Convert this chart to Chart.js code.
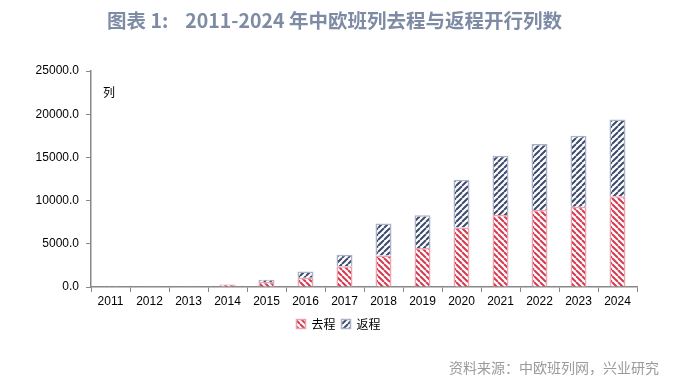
<!DOCTYPE html>
<html>
<head>
<meta charset="utf-8">
<script src="https://cdn.jsdelivr.net/npm/chart.js@4/dist/chart.umd.min.js"></script>
<style>
  body { margin: 0; background: #fff; }
  #wrap { position: relative; width: 691px; height: 384px; }
  #title { position: absolute; left: 107px; top: 5px; white-space: nowrap;
           font-family: "Noto Sans CJK SC", "Noto Sans"; font-weight: bold; font-size: 19.5px; color: #7e8ba5; }
  #title span { display: inline-block; width: 17px; }
  #unit { position: absolute; left: 103px; top: 83px; font-family: "Noto Sans CJK SC"; font-size: 12px; color: #000; }
  #src { position: absolute; right: 32px; top: 357px; font-family: "Noto Sans CJK SC"; font-size: 14px; color: #9a9a9a; }
</style>
</head>
<body>
<div id="wrap">
  <div id="title">图表 1:<span></span>2011-2024 年中欧班列去程与返程开行列数</div>
  <canvas id="canvass" width="691" height="384"></canvas>
  <div id="unit">列</div>
  <div id="src">资料来源：中欧班列网，兴业研究</div>
</div>
<script>
// chart data
var years = ['2011','2012','2013','2014','2015','2016','2017','2018','2019','2020','2021','2022','2023','2024'];
var outbound = [17, 42, 80, 280, 580, 1080, 2400, 3640, 4500, 6900, 8330, 8900, 9300, 10500];
var inbound = [0, 0, 0, 28, 270, 700, 1320, 3720, 3800, 5500, 6870, 7650, 8200, 8900];
var yTicks = [0, 5000, 10000, 15000, 20000, 25000];

function makeStripes(color, back) {
    var s = 6;
    var c = document.createElement('canvas');
    c.width = s; c.height = s;
    var g = c.getContext('2d');
    g.fillStyle = '#fff';
    g.fillRect(0, 0, s, s);
    g.strokeStyle = color;
    g.lineWidth = 2;
    g.beginPath();
    for (var k = -1; k <= 1; k++) {
        var x0 = k * s;
        if (back) { g.moveTo(x0, 0); g.lineTo(x0 + s, s); }
        else { g.moveTo(x0, s); g.lineTo(x0 + s, 0); }
    }
    g.stroke();
    return g.createPattern(c, 'repeat');
}

var redFill = makeStripes('#d63a50', true);
var blueFill = makeStripes('#3d4b6c', false);

// legend sits a little right of the plot centre
var legendShift = {
    id: 'legendShift',
    afterLayout: function (chart) {
        var lg = chart.legend;
        lg.left = 40;
        lg.width = lg.right - lg.left;
    }
};

var ctx = document.getElementById('canvass').getContext('2d');
var myBarChart = new Chart(ctx, {
    type: 'bar',
    data: {
        labels: years,
        datasets: [{
            label: '去程',
            data: outbound,
            backgroundColor: redFill,
            borderColor: '#eca3ae',
            borderWidth: 1.5,
            categoryPercentage: 0.82,
            barPercentage: 0.5
        }, {
            label: '返程',
            data: inbound,
            backgroundColor: blueFill,
            borderColor: '#a9b2c6',
            borderWidth: 1.5,
            categoryPercentage: 0.82,
            barPercentage: 0.5
        }]
    },
    options: {
        responsive: false,
        animation: false,
        layout: { padding: { top: 71, right: 54, bottom: 44, left: 0 } },
        plugins: {
            tooltip: { enabled: false },
            legend: {
                position: 'bottom',
                labels: {
                    boxWidth: 9, boxHeight: 9, padding: 6,
                    color: '#000',
                    font: { family: 'Noto Sans CJK SC', size: 12 }
                }
            }
        },
        scales: {
            x: {
                stacked: true,
                afterFit: function (s) { s.height = 25; },
                grid: { drawOnChartArea: false, offset: true, tickLength: 5, color: '#888' },
                border: { color: '#888', width: 1.5 },
                ticks: { color: '#000', font: { family: 'Liberation Sans', size: 12 }, padding: 2 }
            },
            y: {
                stacked: true,
                min: 0,
                max: 25000,
                afterFit: function (s) { s.width = 91; },
                afterBuildTicks: function (s) { s.ticks = yTicks.map(function (v) { return { value: v }; }); },
                grid: { drawOnChartArea: false, tickLength: 5, color: '#888' },
                border: { color: '#888', width: 1.5 },
                ticks: {
                    color: '#000',
                    font: { family: 'Liberation Sans', size: 12 },
                    padding: 7,
                    callback: function (v) { return v.toFixed(1); }
                }
            }
        }
    },
    plugins: [legendShift]
});
</script>
</body>
</html>
